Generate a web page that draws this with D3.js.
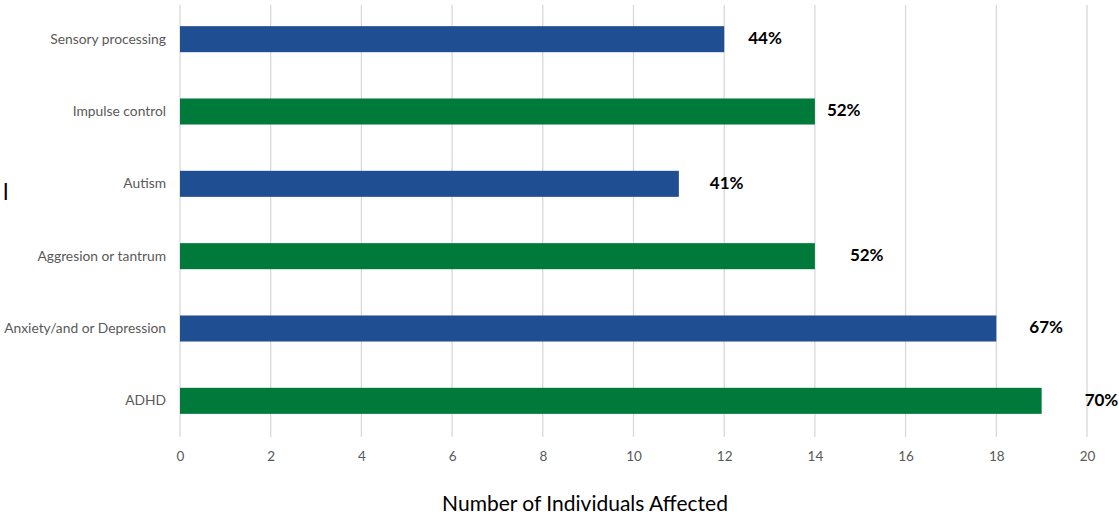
<!DOCTYPE html>
<html><head><meta charset="utf-8">
<script src="https://cdn.jsdelivr.net/npm/d3@7"></script>
<style>body{margin:0;background:#fff;} svg{display:block;}</style>
</head><body>
<svg id="c" width="1119" height="517"></svg>
<script>
const categories = ["Sensory processing","Impulse control","Autism","Aggresion or tantrum","Anxiety/and or Depression","ADHD"];
const values = [12, 14, 11, 14, 18, 19];
const pctLabels = ["44%","52%","41%","52%","67%","70%"];
const barColors = ["#1F4E93","#007A3B","#1F4E93","#007A3B","#1F4E93","#007A3B"];
const labelOffsets = [24, 12, 31, 35, 33, 43];
const xTicks = [0,2,4,6,8,10,12,14,16,18,20];
const xTitle = "Number of Individuals Affected";
const yTitleFragment = "l";

const svg = d3.select("#c");
const m = {l:180, r:1087, t:3, b:437};
const x = d3.scaleLinear().domain([0,20]).range([m.l, m.r]);
const y = d3.scaleBand().domain(categories).range([m.t, m.b]).paddingInner(0.64).paddingOuter(0.32);
const font = "Lato, 'Open Sans', sans-serif";

// gridlines
svg.append("g").selectAll("line").data(xTicks).join("line")
  .attr("x1", d=>x(d)).attr("x2", d=>x(d)).attr("y1", 5).attr("y2", 437)
  .attr("stroke", "#D9D9D9").attr("stroke-width", 1.3);

// bars
svg.append("g").selectAll("rect").data(categories).join("rect")
  .attr("x", x(0)).attr("y", d=>y(d))
  .attr("width", (d,i)=>x(values[i])-x(0)).attr("height", y.bandwidth())
  .attr("fill", (d,i)=>barColors[i]);

// percent labels
svg.append("g").selectAll("text").data(categories).join("text")
  .attr("x", (d,i)=>x(values[i]) + labelOffsets[i])
  .attr("y", d=>y(d)+y.bandwidth()/2 - 1)
  .attr("dy", "0.35em")
  .attr("font-family", font).attr("font-weight", "bold")
  .attr("font-size", 17).attr("fill", "#000")
  .text((d,i)=>pctLabels[i]);

// x axis labels
const xAxis = d3.axisBottom(x).tickValues(xTicks).tickSize(0).tickPadding(0);
const gx = svg.append("g").attr("transform", `translate(0,451)`).call(xAxis);
gx.select(".domain").remove();
gx.selectAll("text").attr("font-family",font).attr("font-size",13.5).attr("fill","#595959").attr("dy","0.71em");

// y axis labels
const yAxis = d3.axisLeft(y).tickSize(0).tickPadding(0);
const gy = svg.append("g").attr("transform", `translate(166,0)`).call(yAxis);
gy.select(".domain").remove();
gy.selectAll("text").attr("font-family",font).attr("font-size",13.8).attr("fill","#595959");

// axis title
svg.append("text").attr("x", 585).attr("y", 511).attr("text-anchor","middle")
  .attr("font-family",font).attr("font-size",21).attr("fill","#000").text(xTitle);

// visible fragment of the (cut-off) y title
svg.append("text").attr("x", 3).attr("y", 200)
  .attr("font-family",font).attr("font-size",23).attr("fill","#000").text(yTitleFragment);
</script>
</body></html>
